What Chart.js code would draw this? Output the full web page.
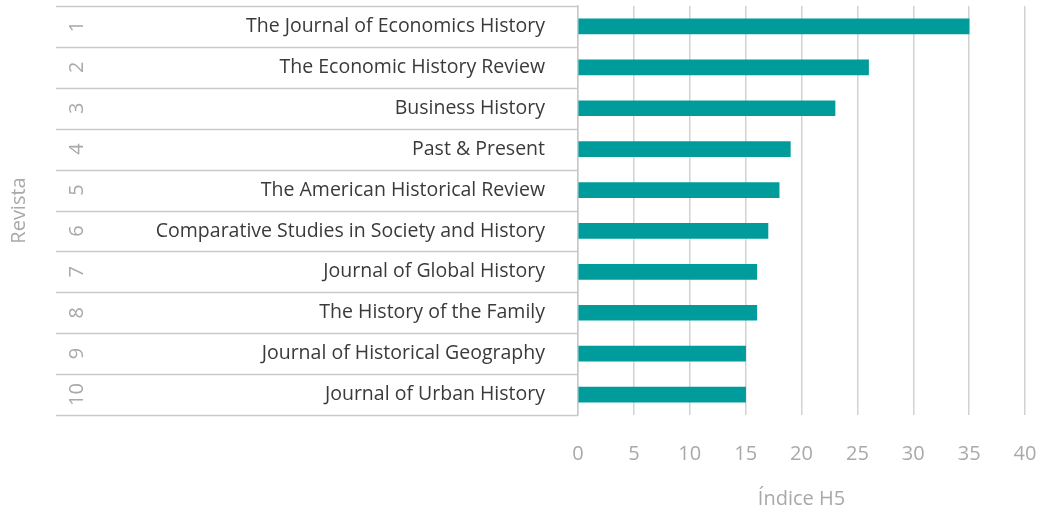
<!DOCTYPE html>
<html>
<head>
<meta charset="utf-8">
<script src="https://cdn.jsdelivr.net/npm/chart.js@4/dist/chart.umd.min.js"></script>
<style>
    html, body { margin: 0; padding: 0; background: #fff; }
    #wrap { width: 1043px; height: 513px; }
</style>
</head>
<body>
<div id="wrap"><canvas id="h5Chart"></canvas></div>
<script>
let ranks = ["1", "2", "3", "4", "5", "6", "7", "8", "9", "10"];
let journals = [
    "The Journal of Economics History",
    "The Economic History Review",
    "Business History",
    "Past & Present",
    "The American Historical Review",
    "Comparative Studies in Society and History",
    "Journal of Global History",
    "The History of the Family",
    "Journal of Historical Geography",
    "Journal of Urban History",
];
let h5Values = [35, 26, 23, 19, 18, 17, 16, 16, 15, 15];
let xTicks = [0, 5, 10, 15, 20, 25, 30, 35, 40];

let fontFamily = "'Open Sans', sans-serif";
let lineColor = "#c9c9c9";
let panelLeft = 56;

// left block: row separators + rotated rank numbers
let rankPanel = {
    id: "rankPanel",
    afterDraw(chart) {
        let ctx = chart.ctx;
        let y = chart.scales.y;
        let right = chart.chartArea.left;
        let half = (y.getPixelForValue(1) - y.getPixelForValue(0)) / 2;

        ctx.save();
        ctx.strokeStyle = lineColor;
        ctx.lineWidth = 1.5;
        for (let i = 0; i <= journals.length; i++) {
            let yy = Math.round(y.getPixelForValue(i) - half) + 0.5;
            ctx.beginPath();
            ctx.moveTo(panelLeft, yy);
            ctx.lineTo(right, yy);
            ctx.stroke();
        }

        ctx.fillStyle = "#a9a9a9";
        ctx.font = "20px " + fontFamily;
        ctx.textAlign = "center";
        ctx.textBaseline = "middle";
        ranks.forEach((r, i) => {
            ctx.save();
            ctx.translate(77, y.getPixelForValue(i));
            ctx.rotate(-Math.PI / 2);
            ctx.fillText(r, 0, 0);
            ctx.restore();
        });
        ctx.restore();
    },
};

let ctx = document.querySelector("#h5Chart").getContext("2d");
let myChart = new Chart(ctx, {
    type: "bar",
    data: {
        labels: journals,
        datasets: [
            {
                label: "Índice H5",
                data: h5Values,
                backgroundColor: "#009c9b",
                barThickness: 15,
                borderWidth: 0,
            },
        ],
    },
    options: {
        indexAxis: "y",
        responsive: true,
        maintainAspectRatio: false,
        animation: false,
        layout: {
            padding: { top: 6, right: 18, bottom: 2, left: 0 },
        },
        plugins: {
            legend: { display: false },
            tooltip: { enabled: false },
        },
        scales: {
            x: {
                min: 0,
                max: 40,
                afterBuildTicks: (scale) => {
                    scale.ticks = xTicks.map((v) => ({ value: v }));
                },
                grid: {
                    color: "#d2d2d2",
                    lineWidth: 1.5,
                    drawTicks: true,
                    tickLength: 27,
                    tickColor: "rgba(0,0,0,0)",
                },
                border: { display: false },
                ticks: {
                    color: "#a9a9a9",
                    font: { family: fontFamily, size: 20 },
                    padding: 0,
                },
                title: {
                    display: true,
                    text: "Índice H5",
                    color: "#a9a9a9",
                    font: { family: fontFamily, size: 20 },
                    padding: { top: 10, bottom: 0 },
                },
                afterFit: (scale) => {
                    scale.height = 96;
                    scale.paddingLeft = 0;
                    scale.paddingRight = 0;
                },
            },
            y: {
                grid: {
                    display: true,
                    drawOnChartArea: false,
                    drawTicks: true,
                    tickLength: 33,
                    tickColor: "rgba(0,0,0,0)",
                },
                border: { display: true, color: lineColor, width: 1.5 },
                ticks: {
                    color: "#3a3a3a",
                    font: { family: fontFamily, size: 19.5 },
                    padding: 0,
                },
                title: {
                    display: true,
                    text: "Revista",
                    color: "#a9a9a9",
                    font: { family: fontFamily, size: 20 },
                    padding: { top: 7, bottom: 0 },
                },
                afterFit: (scale) => {
                    scale.width = 578;
                    scale.paddingTop = 0;
                    scale.paddingBottom = 0;
                },
            },
        },
    },
    plugins: [rankPanel],
});
</script>
</body>
</html>
